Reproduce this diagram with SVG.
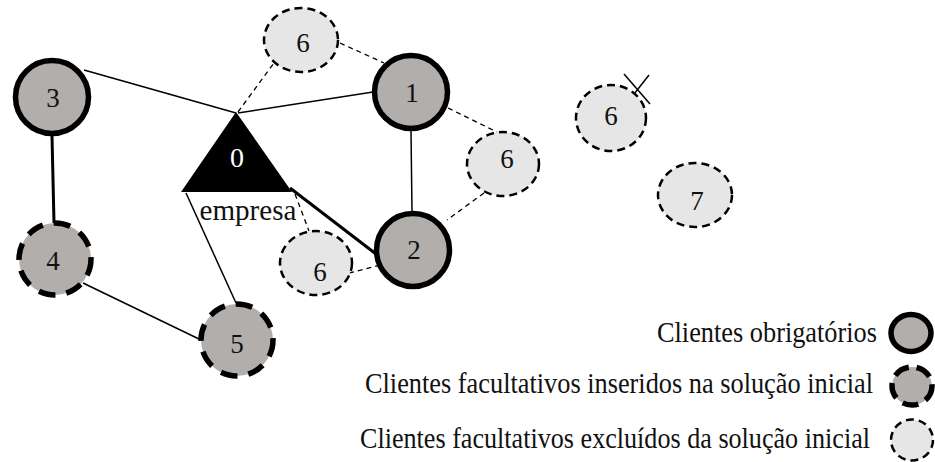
<svg xmlns="http://www.w3.org/2000/svg" width="935" height="462" viewBox="0 0 935 462">
<style>
.mand{fill:#b1aeac;stroke:#000;stroke-width:5.5}
.ins{fill:#b1aeac;stroke:#000;stroke-width:5.5;stroke-dasharray:17 11}
.exc{fill:#e6e6e6;stroke:#000;stroke-width:2.5;stroke-dasharray:8 5}
.lbl{font-family:"Liberation Serif","Times New Roman",serif;font-size:27px;fill:#111;text-anchor:middle}
.leg{font-family:"Liberation Serif","Times New Roman",serif;font-size:29px;fill:#111}
.thin{stroke:#000;stroke-width:1.5;fill:none}
.thick{stroke:#000;stroke-width:3;fill:none}
.dash{stroke:#000;stroke-width:1.3;stroke-dasharray:5 4;fill:none}
</style>
<g id="connectors">
<line class="thin" x1="84" y1="70" x2="236" y2="113"/>
<line class="thin" x1="238" y1="113" x2="373" y2="92"/>
<line class="dash" x1="238" y1="112" x2="274" y2="63"/>
<line class="dash" x1="340" y1="43" x2="384" y2="63"/>
<line class="dash" x1="448" y1="108" x2="497" y2="132"/>
<line class="dash" x1="484" y1="193" x2="447" y2="220"/>
<line class="thin" x1="411" y1="131" x2="412" y2="212"/>
<line class="thick" x1="290" y1="188" x2="376" y2="254"/>
<line class="dash" x1="295" y1="194" x2="309" y2="231"/>
<line class="dash" x1="349" y1="273" x2="388" y2="263"/>
<line class="thin" x1="186" y1="193" x2="236" y2="303"/>
<line class="thick" x1="52" y1="136" x2="54" y2="223"/>
<line class="thin" x1="83" y1="283" x2="199" y2="339"/>
<line class="thin" x1="624" y1="74" x2="650" y2="104"/>
<line class="thin" x1="627" y1="103" x2="649" y2="75"/>
</g>
<g id="node0">
<polygon points="236,112 181,192 292,192" fill="#000"/>
<text x="237" y="167" class="lbl" style="fill:#fff;font-size:28px">0</text>
<text x="248" y="220" class="lbl" style="font-size:29px" textLength="97" lengthAdjust="spacingAndGlyphs">empresa</text>
</g>
<g id="node1">
<circle class="mand" cx="411" cy="92" r="36.5"/>
<text x="412" y="102" class="lbl">1</text>
</g>
<g id="node2">
<circle class="mand" cx="413" cy="250" r="36.5"/>
<text x="414" y="259" class="lbl">2</text>
</g>
<g id="node3">
<circle class="mand" cx="52" cy="97" r="36.5"/>
<text x="53" y="107" class="lbl">3</text>
</g>
<g id="node4">
<circle class="ins" cx="55" cy="259" r="36"/>
<text x="53" y="270" class="lbl">4</text>
</g>
<g id="node5">
<circle class="ins" cx="237" cy="340" r="36"/>
<text x="237" y="353" class="lbl">5</text>
</g>
<g id="node6a">
<ellipse class="exc" cx="301" cy="40" rx="37" ry="32"/>
<text x="303" y="52" class="lbl">6</text>
</g>
<g id="node6b">
<ellipse class="exc" cx="503" cy="164" rx="36" ry="32"/>
<text x="507" y="168" class="lbl">6</text>
</g>
<g id="node6c">
<ellipse class="exc" cx="316" cy="263" rx="36" ry="32"/>
<text x="320" y="281" class="lbl">6</text>
</g>
<g id="node6d">
<ellipse class="exc" cx="611" cy="118" rx="35" ry="33"/>
<text x="611" y="125" class="lbl">6</text>
</g>
<g id="node7">
<ellipse class="exc" cx="695" cy="195" rx="37" ry="32"/>
<text x="697" y="210" class="lbl">7</text>
</g>
<g id="legend">
<text x="657" y="342" class="leg" textLength="220" lengthAdjust="spacingAndGlyphs">Clientes obrigatórios</text>
<ellipse class="mand" cx="911" cy="333" rx="20" ry="18.5"/>
<text x="365" y="393" class="leg" textLength="508" lengthAdjust="spacingAndGlyphs">Clientes facultativos inseridos na solução inicial</text>
<ellipse class="ins" cx="912" cy="386" rx="20" ry="19" style="stroke-dasharray:16 8"/>
<text x="360" y="448" class="leg" textLength="510" lengthAdjust="spacingAndGlyphs">Clientes facultativos excluídos da solução inicial</text>
<ellipse class="exc" cx="912" cy="440" rx="21" ry="20.5"/>
</g>
</svg>
